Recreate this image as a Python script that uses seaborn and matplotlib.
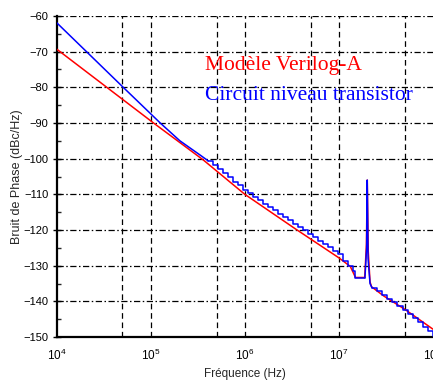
import matplotlib
matplotlib.use("Agg")
import matplotlib.pyplot as plt
import matplotlib.ticker as mticker
import seaborn as sns
import pandas as pd

# ---------------- data ----------------
red_freq = [1e4, 1.07e5, 3.63e5, 1e6, 3.41e6, 1e7, 1.32e7, 1.5e7, 1.88e7,
            1.96e7, 2.0e7, 2.05e7, 2.14e7, 2.22e7, 3e7, 5e7, 1e8]
red_db = [-69.3, -90.0, -100.4, -110.0, -119.6, -127.8, -130.2, -133.3, -133.3,
          -124.0, -106.0, -126.0, -134.5, -135.9, -138.5, -142.2, -147.8]

blue_freq_smooth = [1e4, 5e4, 1.26e5, 2.04e5, 3.35e5, 4.07e5]
blue_db_smooth = [-61.9, -79.8, -90.0, -95.0, -99.0, -100.6]

blue_freq_steps = [4.07e5, 4.60e5, 5.20e5, 5.87e5, 6.64e5, 7.50e5, 8.47e5, 9.57e5,
                   1.081e6, 1.222e6, 1.380e6, 1.560e6, 1.762e6, 1.991e6, 2.249e6,
                   2.541e6, 2.871e6, 3.243e6, 3.664e6, 4.140e6, 4.677e6, 5.284e6,
                   5.970e6, 6.745e6, 7.621e6, 8.610e6, 9.727e6, 1.099e7, 1.242e7,
                   1.403e7, 1.48e7, 1.89e7]
blue_db_steps = [-100.6, -101.7, -102.9, -104.0, -105.2, -106.4, -107.5, -108.7,
                 -109.7, -110.7, -111.6, -112.6, -113.5, -114.5, -115.4,
                 -116.4, -117.3, -118.2, -119.2, -120.1, -121.1, -122.0,
                 -123.0, -123.9, -124.8, -125.8, -126.7, -128.8, -130.2,
                 -131.6, -133.4, -133.4]

blue_freq_peak = [1.89e7, 1.97e7, 2.0e7, 2.04e7, 2.14e7, 2.249e7]
blue_db_peak = [-133.4, -125.0, -106.0, -128.0, -135.0, -136.2]

blue_freq_tail = [2.249e7, 2.547e7, 2.884e7, 3.266e7, 3.698e7, 4.188e7, 4.742e7,
                  5.370e7, 6.081e7, 6.887e7, 7.798e7, 8.831e7, 1e8]
blue_db_tail = [-136.2, -137.2, -138.2, -139.2, -140.2, -141.3, -142.4,
                -143.5, -144.7, -145.9, -147.1, -148.4, -149.7]

x_ticks = [1e4, 1e5, 1e6, 1e7, 1e8]
x_tick_labels = ["$10^{4}$", "$10^{5}$", "$10^{6}$", "$10^{7}$", "$10^{8}$"]
x_minor = [5e4, 5e5, 5e6, 5e7]
y_ticks = [-150, -140, -130, -120, -110, -100, -90, -80, -70, -60]
y_minor = [-145, -135, -125, -115, -105, -95, -85, -75, -65]

label_red = "Modèle Verilog-A"
label_blue = "Circuit niveau transistor"
xlabel = "Fréquence (Hz)"
ylabel = "Bruit de Phase (dBc/Hz)"

# ---------------- style ----------------
sns.set_style("white")
plt.rcParams["font.family"] = ["Liberation Sans", "DejaVu Sans"]
plt.rcParams["mathtext.fontset"] = "custom"
plt.rcParams["mathtext.rm"] = "Liberation Sans"
plt.rcParams["mathtext.it"] = "Liberation Sans"

fig = plt.figure(figsize=(4.33, 3.8), dpi=100)
ax = fig.add_axes([0.131, 0.113, 0.869, 0.845])
ax.set_xscale("log")

RED = "#ff0000"
BLUE = "#0000ff"

sns.lineplot(x=red_freq, y=red_db, ax=ax, color=RED, linewidth=1.1,
             estimator=None, sort=False, zorder=3)
sns.lineplot(x=blue_freq_smooth, y=blue_db_smooth, ax=ax, color=BLUE, linewidth=1.1,
             estimator=None, sort=False, zorder=4)
sns.lineplot(x=blue_freq_steps, y=blue_db_steps, ax=ax, color=BLUE, linewidth=1.1,
             estimator=None, sort=False, drawstyle="steps-post", zorder=4)
sns.lineplot(x=blue_freq_peak, y=blue_db_peak, ax=ax, color=BLUE, linewidth=1.1,
             estimator=None, sort=False, zorder=4)
sns.lineplot(x=blue_freq_tail, y=blue_db_tail, ax=ax, color=BLUE, linewidth=1.1,
             estimator=None, sort=False, drawstyle="steps-post", zorder=4)

ax.set_xlim(1e4, 1e8)
ax.set_ylim(-150, -60)

# grid
for xv in x_minor + x_ticks[1:-1]:
    ax.axvline(xv, color="black", linewidth=0.9, linestyle=(0, (4.5, 3)), zorder=1)
for yv in y_ticks[1:]:
    ax.axhline(yv, color="black", linewidth=0.9, linestyle=(0, (5, 2, 1.2, 2)), zorder=1)

# ticks
ax.xaxis.set_major_locator(mticker.FixedLocator(x_ticks))
ax.xaxis.set_major_formatter(mticker.FixedFormatter(x_tick_labels))
ax.xaxis.set_minor_locator(mticker.FixedLocator(x_minor))
ax.xaxis.set_minor_formatter(mticker.NullFormatter())
ax.yaxis.set_major_locator(mticker.FixedLocator(y_ticks))
ax.yaxis.set_minor_locator(mticker.FixedLocator(y_minor))

ax.tick_params(axis="x", which="major", direction="in", length=5, width=1.0,
               labelsize=8.5, pad=8, colors="black")
ax.tick_params(axis="x", which="minor", direction="in", length=4, width=1.0)
ax.tick_params(axis="y", which="major", direction="inout", length=6, width=1.0,
               labelsize=8, pad=3, colors="black", left=True)
ax.tick_params(axis="y", which="minor", direction="in", length=3, width=1.0, left=True)

for s in ["top", "right"]:
    ax.spines[s].set_visible(False)
for s in ["left", "bottom"]:
    ax.spines[s].set_visible(True)
    ax.spines[s].set_color("black")
    ax.spines[s].set_linewidth(1.6)

ax.set_xlabel(xlabel, fontsize=8.5, labelpad=3)
ax.set_ylabel(ylabel, fontsize=9, labelpad=0)

fig.text(205 / 433, 1 - 70 / 380, label_red, color=RED, fontsize=15.5,
         family=["Liberation Serif", "DejaVu Serif"], va="baseline", ha="left")
fig.text(205 / 433, 1 - 100 / 380, label_blue, color=BLUE, fontsize=15.5,
         family=["Liberation Serif", "DejaVu Serif"], va="baseline", ha="left")

fig.savefig("out.png", dpi=100, facecolor="white")
